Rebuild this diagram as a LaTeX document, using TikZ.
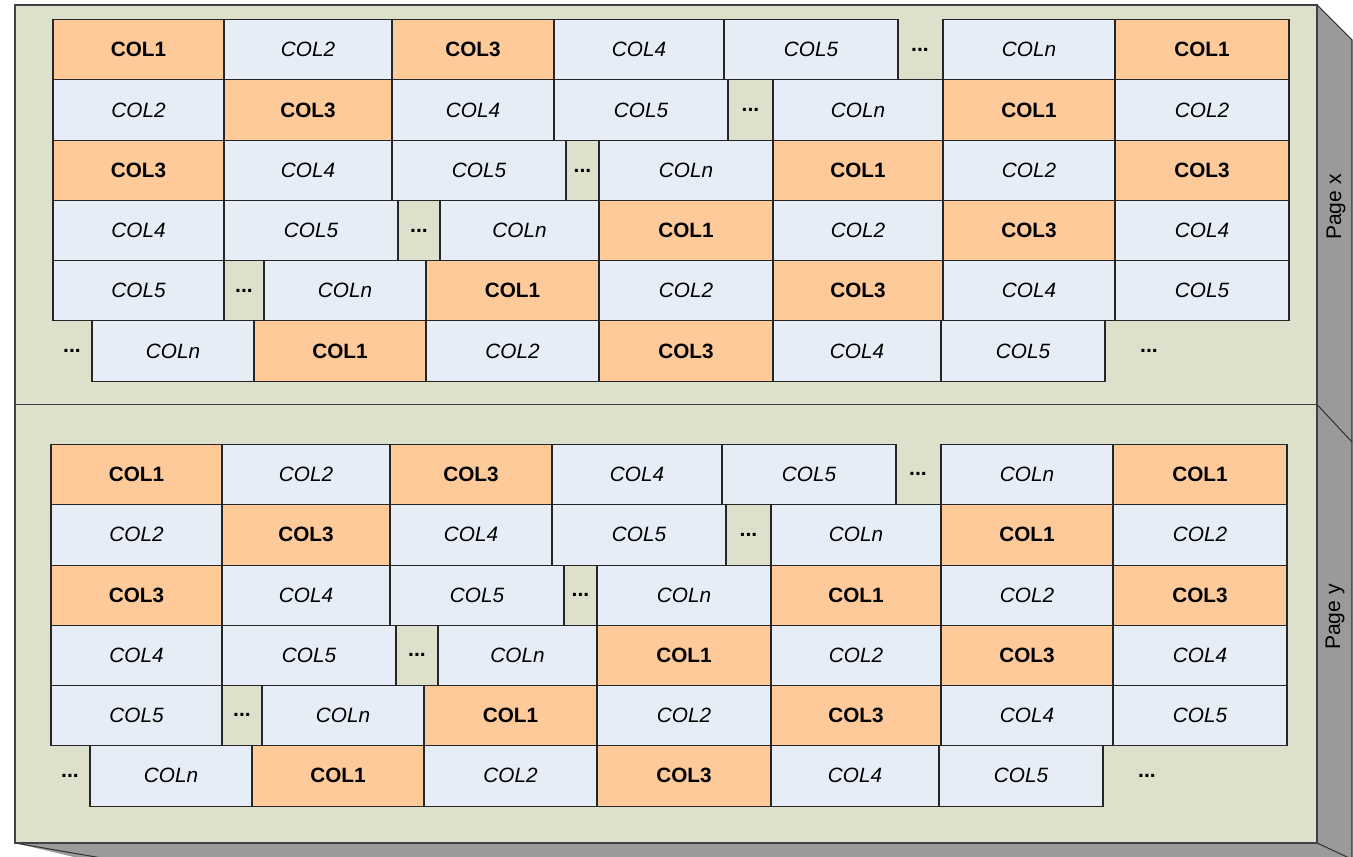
\documentclass[tikz,border=0pt]{standalone}
\usepackage{fontspec}
\setmainfont{Liberation Sans}
\definecolor{faceBg}{HTML}{DDE0CB}
\definecolor{sideGray}{HTML}{9A9A9A}
\definecolor{cellOrange}{HTML}{FFCA99}
\definecolor{cellBlue}{HTML}{E7EDF7}

\begin{document}
\begin{tikzpicture}[x=0.02cm, y=-0.02cm,
    face/.style={fill=faceBg, draw=black!75, line width=0.6pt},
    cell/.style={draw=black!85, line width=0.7pt, inner sep=0pt, outer sep=0pt,
        anchor=north west, font=\fontsize{11.8}{13}\selectfont},
    hd/.style={cell, fill=cellOrange, font=\bfseries\fontsize{11.8}{13}\selectfont},
    it/.style={cell, fill=cellBlue, font=\itshape\fontsize{11.8}{13}\selectfont},
    dots/.style={font=\bfseries\fontsize{12}{13}\selectfont, inner sep=0pt},
    side/.style={font=\fontsize{12}{14}\selectfont, rotate=90, inner sep=0pt},
]
\useasboundingbox (0,0) rectangle (1353,856);
% box sides
\fill[sideGray] (1317,5) -- (1352,40) -- (1352,880) -- (171,880) -- (15,843) -- cycle;
\draw[black!80, line width=0.6pt] (1317,5) -- (1352,40) -- (1352,880);
\draw[black!80, line width=0.6pt] (15,843) -- (171,870);
\draw[black!80, line width=0.6pt] (1317,843) -- (1375,870);
\draw[black!80, line width=0.6pt] (1317,404.5) -- (1352,442);
% page faces
\draw[face] (15,5) rectangle (1317,404.5);
\draw[face] (15,404.5) rectangle (1317,843);
\node[side] (pagex) at (1336,207) {Page x};
\node[side] (pagey) at (1335,617) {Page y};
% columns of both pages
\foreach \pg/\dx/\dy in {x/0/0, y/-2/424.8} {
  \foreach \r/\top/\hgt/\cells in {
    1/19.5/60/{53/224/hd/COL1, 224/392/it/COL2, 392/554/hd/COL3, 554/724/it/COL4, 724/898/it/COL5, 943/1115/it/COL\textit{n}, 1115/1289/hd/COL1},
    2/79.5/61/{53/224/it/COL2, 224/392/hd/COL3, 392/554/it/COL4, 554/728/it/COL5, 773/943/it/COL\textit{n}, 943/1115/hd/COL1, 1115/1289/it/COL2},
    3/140.5/60/{53/224/hd/COL3, 224/392/it/COL4, 392/566/it/COL5, 599/773/it/COL\textit{n}, 773/943/hd/COL1, 943/1115/it/COL2, 1115/1289/hd/COL3},
    4/200.5/60/{53/224/it/COL4, 224/398/it/COL5, 440/599/it/COL\textit{n}, 599/773/hd/COL1, 773/943/it/COL2, 943/1115/hd/COL3, 1115/1289/it/COL4},
    5/260.5/60/{53/224/it/COL5, 264/426/it/COL\textit{n}, 426/599/hd/COL1, 599/773/it/COL2, 773/943/hd/COL3, 943/1115/it/COL4, 1115/1289/it/COL5},
    6/320.5/61/{92/254/it/COL\textit{n}, 254/426/hd/COL1, 426/599/it/COL2, 599/773/hd/COL3, 773/941/it/COL4, 941/1105/it/COL5}} {
    \foreach \a/\b/\k/\lab [count=\n] in \cells
      \node[\k, minimum width={(\b-\a)*0.02cm}, minimum height={\hgt*0.02cm}]
        (\pg-\r-\n) at (\a+\dx, \top+\dy) {\lab};
  }
  \foreach \r/\px/\py in {1/920/49.5, 2/750.5/110, 3/582.5/170.5, 4/419/230.5,
      5/244/290.5, 6/72/351, 7/1149/351}
    \node[dots] (\pg-d\r) at (\px+\dx, \py+\dy) {...};
}
\end{tikzpicture}
\end{document}
